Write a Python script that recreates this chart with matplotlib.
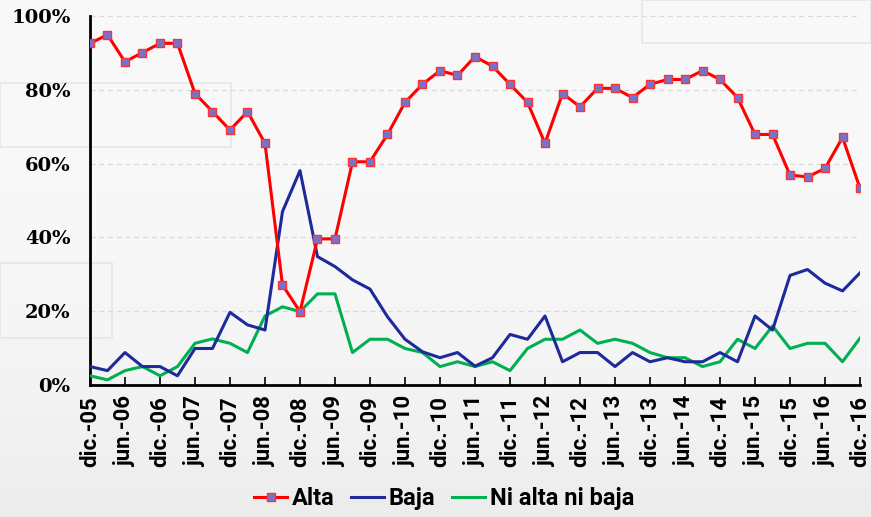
import numpy as np
import matplotlib
matplotlib.use("Agg")
import matplotlib.pyplot as plt
from matplotlib.patches import Rectangle

# quarterly data, dic-05 .. dic-16 (percent)
quarters = []
for yr in range(5, 17):
    for m in ["mar.", "jun.", "sep.", "dic."]:
        quarters.append(f"{m}-{yr:02d}")
quarters = quarters[3:]  # start at dic.-05

alta = [92.6, 94.9, 87.6, 90.1, 92.6, 92.6, 79.0, 74.1, 69.1, 74.1,
        65.5, 27.1, 19.9, 39.6, 39.6, 60.5, 60.5, 67.9, 76.6, 81.5,
        85.2, 83.9, 89.0, 86.4, 81.5, 76.6, 65.5, 79.0, 75.4, 80.4,
        80.4, 77.9, 81.5, 82.8, 82.8, 85.2, 82.8, 77.9, 67.9, 67.9,
        56.9, 56.4, 58.7, 67.1, 53.3]
baja = [5.0, 3.9, 8.8, 5.0, 5.0, 2.5, 9.9, 9.9, 19.7, 16.3,
        14.9, 47.0, 58.1, 34.8, 32.1, 28.5, 26.0, 18.5, 12.4, 9.0,
        7.4, 8.8, 5.1, 7.4, 13.7, 12.4, 18.7, 6.3, 8.8, 8.8,
        5.0, 8.8, 6.3, 7.4, 6.3, 6.3, 8.8, 6.3, 18.7, 14.9,
        29.7, 31.3, 27.6, 25.5, 30.4]
ni = [2.5, 1.4, 3.9, 5.0, 2.5, 5.0, 11.3, 12.5, 11.3, 8.8,
      18.7, 21.2, 19.9, 24.7, 24.7, 8.8, 12.4, 12.4, 9.9, 8.8,
      5.0, 6.3, 5.0, 6.3, 3.9, 9.9, 12.4, 12.4, 14.9, 11.3,
      12.4, 11.3, 8.8, 7.4, 7.4, 5.0, 6.3, 12.4, 9.9, 16.0,
      9.9, 11.3, 11.3, 6.3, 12.7]

x = np.arange(len(quarters))
lab_font = ["Roboto", "DejaVu Sans"]

fig = plt.figure(figsize=(8.71, 5.17), dpi=100, facecolor="#f7f7f7")
# soft grey gradient towards the bottom
bg = fig.add_axes([0, 0, 1, 1], zorder=-20)
t = np.linspace(0, 1, 200) ** 3
shade = (0.975 - 0.05 * t)[:, None, None] * np.ones((1, 1, 3))
bg.imshow(shade, aspect="auto", extent=[0, 1, 0, 1], origin="upper")
bg.set_xlim(0, 1)
bg.set_ylim(0, 1)
bg.set_axis_off()
# faint decorative boxes in the background
for (x0, y0, w, h) in [(0.0, 0.715, 0.265, 0.125), (0.737, 0.917, 0.263, 0.083), (0.0, 0.346, 0.129, 0.146)]:
    bg.add_patch(Rectangle((x0, y0), w, h, facecolor="none", edgecolor="#e6e6e6", lw=1.2))

ax = fig.add_axes([0.1033, 0.2553, 0.8841, 0.7137])
ax.set_facecolor("none")

ax.plot(x, ni, color="#00b050", lw=2.2, label="Ni alta ni baja", zorder=3)
ax.plot(x, baja, color="#1f2a9a", lw=2.2, label="Baja", zorder=4)
ax.plot(x, alta, color="#ff0000", lw=2.2, marker="s", markersize=6,
        markerfacecolor="#7474d0", markeredgecolor="#ff3030", markeredgewidth=1,
        label="Alta", zorder=5)

ax.set_xlim(0, len(x) - 1)
ax.set_ylim(0, 100)
ax.set_yticks(np.arange(0, 101, 20))
ax.set_yticklabels([f"{v}%" for v in range(0, 101, 20)],
                   fontsize=14, fontweight="bold", family="DejaVu Serif")
ax.yaxis.grid(True, linestyle=(0, (4, 3)), color="#dadada", lw=0.9)
ax.set_axisbelow(True)
ax.tick_params(axis="y", length=0, pad=14)

ax.set_xticks(x[::2])
ax.set_xticklabels(quarters[::2], rotation=90, fontsize=16, fontweight="bold", family=lab_font)
ax.tick_params(axis="x", direction="in", length=6, width=1.2, pad=8)

for s in ["top", "right"]:
    ax.spines[s].set_visible(False)
for s in ["left", "bottom"]:
    ax.spines[s].set_linewidth(2)
    ax.spines[s].set_color("black")

handles, labels = ax.get_legend_handles_labels()
order = [2, 1, 0]
leg = fig.legend([handles[i] for i in order], [labels[i] for i in order],
                 loc="center", bbox_to_anchor=(0.51, 0.036), ncol=3, frameon=False,
                 handlelength=1.4, handletextpad=0.2, columnspacing=0.7,
                 prop=dict(size=17, weight="bold", family=lab_font))

fig.savefig("out.png", dpi=100, facecolor=fig.get_facecolor())
